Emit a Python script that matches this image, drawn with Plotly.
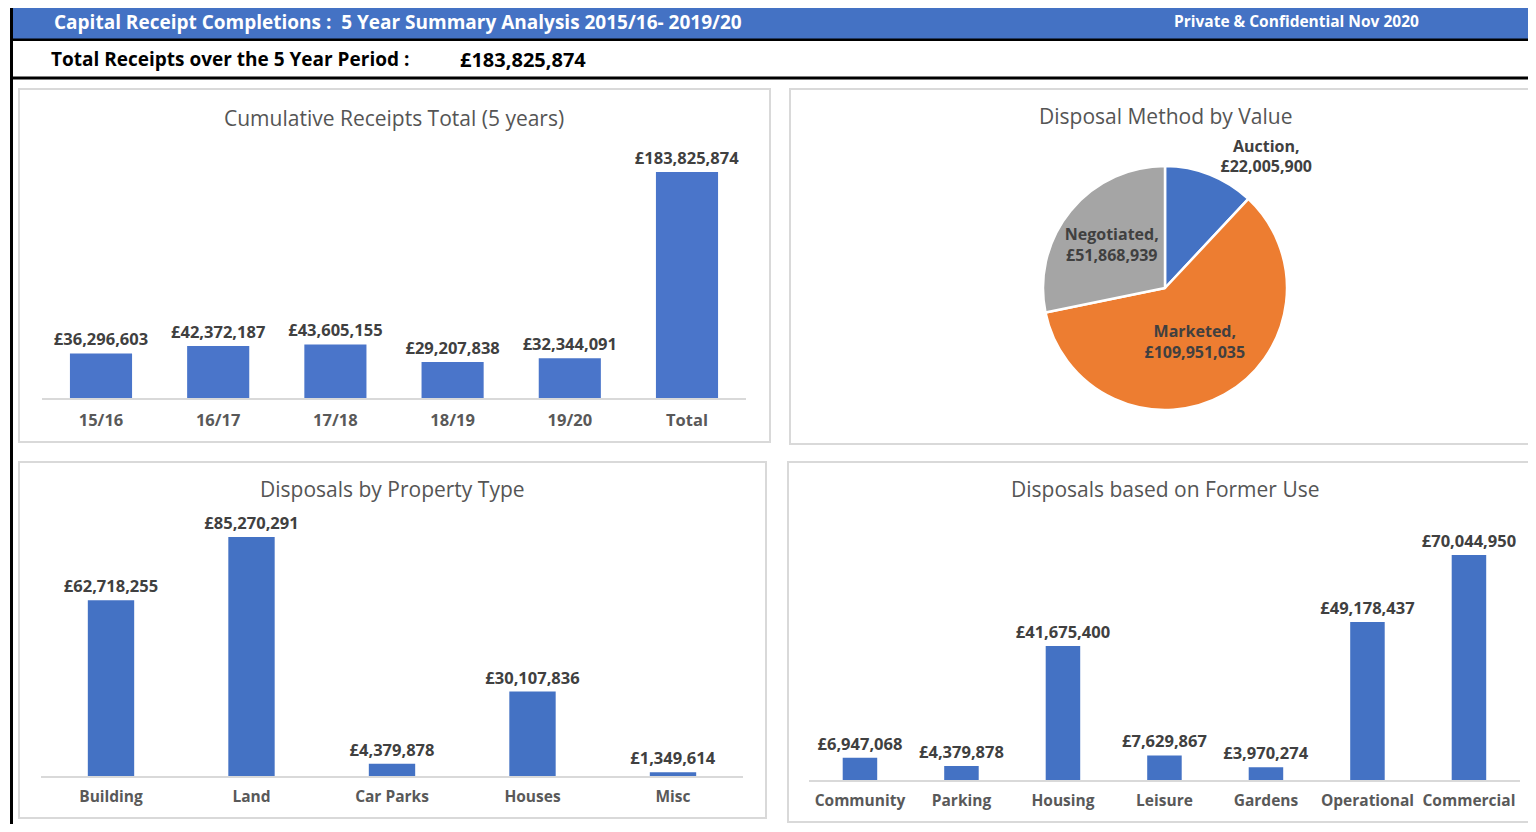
import plotly.graph_objects as go

# ---------------- data ----------------
years = ["15/16", "16/17", "17/18", "18/19", "19/20"]
year_values = [36296603, 42372187, 43605155, 29207838, 32344091]
total_receipts = sum(year_values)
cum_categories = years + ["Total"]
cum_values = year_values + [total_receipts]

method_labels = ["Auction", "Marketed", "Negotiated"]
method_values = [22005900, 109951035, 51868939]
method_colors = ["#4472C4", "#ED7D31", "#A5A5A5"]

property_types = ["Building", "Land", "Car Parks", "Houses", "Misc"]
property_values = [62718255, 85270291, 4379878, 30107836, 1349614]

former_use = ["Community", "Parking", "Housing", "Leisure", "Gardens", "Operational", "Commercial"]
former_values = [6947068, 4379878, 41675400, 7629867, 3970274, 49178437, 70044950]

header_title = "Capital Receipt Completions :  5 Year Summary Analysis 2015/16- 2019/20"
header_right = "Private & Confidential Nov 2020"

# ---------------- layout helpers ----------------
# the page body has an 8px margin, so the figure is drawn 8px in from the window edge
OFF = 8
W, H = 1536 - 2 * OFF, 832 - 2 * OFF
FONT = "Open Sans"
def px(x):
    return (x - OFF) / W
def py(y):
    return 1 - (y - OFF) / H

label_font = dict(family=FONT, size=16.5, color="#404040")
title_font = dict(family=FONT, size=21, color="#555555")

fig = go.Figure()

fig.add_trace(go.Bar(
    x=cum_categories, y=cum_values, xaxis="x", yaxis="y",
    marker=dict(color="#4A75CA", line=dict(width=0)), width=0.53,
    texttemplate="<b>£%{y:,.0f}</b>", textposition="outside", textfont=label_font,
    constraintext="none", cliponaxis=False, showlegend=False))

fig.add_trace(go.Bar(
    x=property_types, y=property_values, xaxis="x2", yaxis="y2",
    marker=dict(color="#4472C4", line=dict(width=0)), width=0.33,
    texttemplate="<b>£%{y:,.0f}</b>", textposition="outside", textfont=label_font,
    constraintext="none", cliponaxis=False, showlegend=False))

fig.add_trace(go.Bar(
    x=former_use, y=former_values, xaxis="x3", yaxis="y3",
    marker=dict(color="#4472C4", line=dict(width=0)), width=0.34,
    texttemplate="<b>£%{y:,.0f}</b>", textposition="outside", textfont=label_font,
    constraintext="none", cliponaxis=False, showlegend=False))

fig.add_trace(go.Pie(
    labels=method_labels, values=method_values, sort=False, direction="clockwise",
    rotation=0, marker=dict(colors=method_colors, line=dict(color="white", width=2.5)),
    texttemplate="<b>%{label},<br>£%{value:,.0f}</b>",
    textposition=["outside", "inside", "inside"],
    insidetextorientation="horizontal",
    textfont=dict(family=FONT, size=16, color="#404040"),
    domain=dict(x=[px(1165 - 124), px(1165 + 124)], y=[py(288 + 122), py(288 - 122)]),
    showlegend=False, hoverinfo="label+value"))

def xax(lo, hi, tsize):
    return dict(domain=[px(lo), px(hi)], showline=True, linecolor="#D9D9D9", linewidth=1.5,
                showgrid=False, zeroline=False, ticks="",
                tickfont=dict(family=FONT, size=tsize, color="#595959"),
                ticklabelstandoff=6, fixedrange=True, tickprefix="<b>", ticksuffix="</b>")

def yax(base, top, rng, anchor):
    return dict(domain=[py(base), py(top)], range=[0, rng], visible=False,
                showgrid=False, zeroline=False, fixedrange=True, anchor=anchor)

fig.update_layout(
    width=W, height=H, margin=dict(l=0, r=0, t=0, b=0),
    paper_bgcolor="white", plot_bgcolor="white",
    font=dict(family=FONT),
    xaxis=dict(**xax(42.4, 745.6, 16.5), anchor="y"),
    yaxis=yax(398, 145, 205.8e6, "x"),
    xaxis2=dict(**xax(40.75, 743.25, 15.5), anchor="y2"),
    yaxis2=yax(776, 510, 94.9e6, "x2"),
    xaxis3=dict(**xax(809.2, 1519.7, 15.5), anchor="y3"),
    yaxis3=yax(780, 530, 77.8e6, "x3"),
)

shapes = []
# header
shapes.append(dict(type="rect", xref="paper", yref="paper", x0=px(10), x1=px(1540), y0=py(41), y1=py(3),
                   fillcolor="black", line=dict(width=0), layer="below"))
shapes.append(dict(type="rect", xref="paper", yref="paper", x0=px(13), x1=px(1540), y0=py(38.5), y1=py(5.5),
                   fillcolor="#4472C4", line=dict(width=0), layer="below"))
shapes.append(dict(type="rect", xref="paper", yref="paper", x0=px(13), x1=px(1540), y0=py(76.5), y1=py(41),
                   fillcolor="white", line=dict(width=0), layer="below"))
shapes.append(dict(type="line", xref="paper", yref="paper", x0=px(10), x1=px(1540), y0=py(78), y1=py(78),
                   line=dict(color="black", width=3)))
shapes.append(dict(type="line", xref="paper", yref="paper", x0=px(11.5), x1=px(11.5), y0=py(3), y1=py(840),
                   line=dict(color="black", width=3)))
# panels
for (x0, x1, y0, y1) in [(19, 770, 89, 442), (790, 1545, 89, 444), (19, 766, 462, 818), (788, 1545, 462, 822)]:
    shapes.append(dict(type="rect", xref="paper", yref="paper", x0=px(x0), x1=px(x1), y0=py(y1), y1=py(y0),
                       line=dict(color="#D9D9D9", width=2), fillcolor="rgba(0,0,0,0)", layer="below"))

annotations = [
    dict(text="<b>" + header_title + "</b>", x=px(52), y=py(22), xanchor="left", yanchor="middle",
         font=dict(family=FONT, size=19, color="white")),
    dict(text="<b>" + header_right + "</b>", x=px(1172), y=py(21), xanchor="left", yanchor="middle",
         font=dict(family=FONT, size=15.5, color="white")),
    dict(text="<b>Total Receipts over the 5 Year Period :</b>", x=px(49), y=py(59), xanchor="left",
         yanchor="middle", font=dict(family=FONT, size=19, color="black")),
    dict(text="<b>£{:,.0f}</b>".format(total_receipts), x=px(458), y=py(59), xanchor="left",
         yanchor="middle", font=dict(family=FONT, size=20, color="black")),
    dict(text="Cumulative Receipts Total (5 years)", x=px(394), y=py(118), xanchor="center",
         yanchor="middle", font=title_font),
    dict(text="Disposal Method by Value", x=px(1165), y=py(116), xanchor="center",
         yanchor="middle", font=title_font),
    dict(text="Disposals by Property Type", x=px(392), y=py(489), xanchor="center",
         yanchor="middle", font=title_font),
    dict(text="Disposals based on Former Use", x=px(1165), y=py(489), xanchor="center",
         yanchor="middle", font=title_font),
]
for a in annotations:
    a.update(xref="paper", yref="paper", showarrow=False)

fig.update_layout(shapes=shapes, annotations=annotations)
fig.write_html("out.html")
